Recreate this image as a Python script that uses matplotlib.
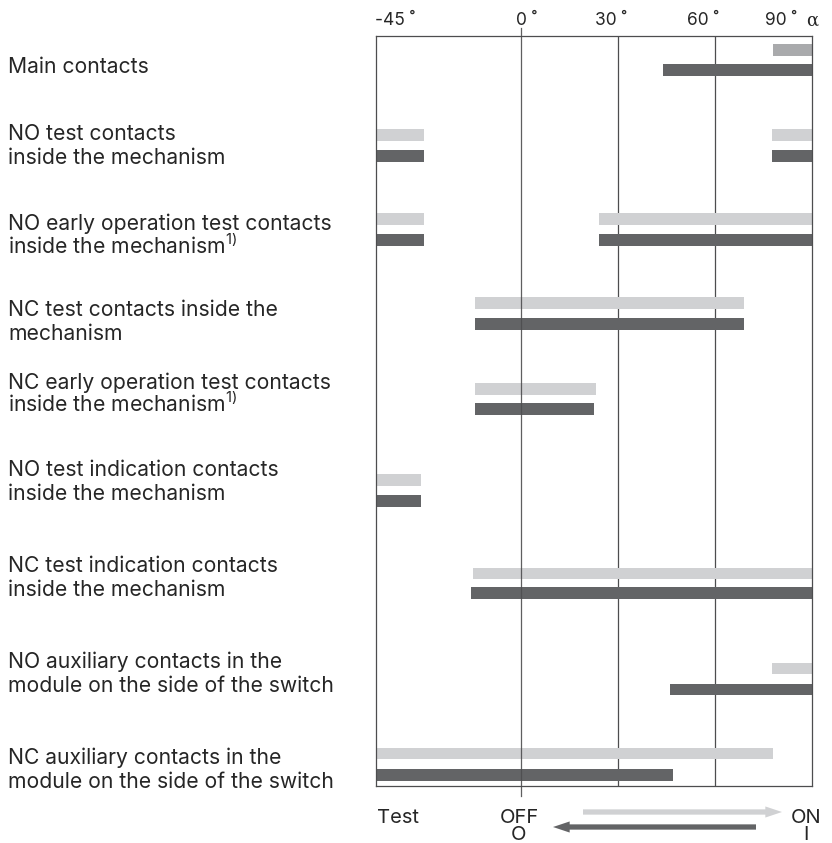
import matplotlib
matplotlib.use("Agg")
import matplotlib.pyplot as plt
from matplotlib import transforms

plt.rcParams['font.family'] = ['Inter', 'DejaVu Sans']
plt.rcParams['mathtext.fontset'] = 'custom'
plt.rcParams['mathtext.rm'] = 'Inter'

# contact names (one row each)
labels = [
    "Main contacts",
    "NO test contacts\ninside the mechanism",
    "NO early operation test contacts\ninside the mechanism$^{1)}$",
    "NC test contacts inside the\nmechanism",
    "NC early operation test contacts\ninside the mechanism$^{1)}$",
    "NO test indication contacts\ninside the mechanism",
    "NC test indication contacts\ninside the mechanism",
    "NO auxiliary contacts in the\nmodule on the side of the switch",
    "NC auxiliary contacts in the\nmodule on the side of the switch",
]

# closed ranges in degrees (start, end): light = closing (OFF -> ON), dark = opening (ON -> OFF)
light_ranges = [
    [(78, 90)],
    [(-45, -30), (77.5, 90)],
    [(-45, -30), (24, 90)],
    [(-14.5, 69)],
    [(-14.5, 23)],
    [(-45, -31)],
    [(-15, 90)],
    [(77.5, 90)],
    [(-45, 78)],
]
dark_ranges = [
    [(44, 90)],
    [(-45, -30), (77.5, 90)],
    [(-45, -30), (24, 90)],
    [(-14.5, 69)],
    [(-14.5, 22.5)],
    [(-45, -31)],
    [(-15.5, 90)],
    [(46, 90)],
    [(-45, 47)],
]

tick_values = [-45, 0, 30, 60, 90]
tick_labels = ["-45 ˚", "0 ˚", "30 ˚", "60 ˚", "90 ˚"]

# layout (pixels)
W, H = 832, 843
light_y = [50, 135, 219, 303, 389, 480, 573.5, 668.5, 753.5]
dark_y = [70, 156, 240, 324, 409, 501, 593, 689.5, 775]
label_base = [73, 140, 230, 316, 389, 476, 572, 668, 764]
tick_dx = [19, 5, -7, -12, -31]
bar_h = 11.5
LIGHT = '#d0d1d3'
LIGHT_MAIN = '#a9aaac'
DARK = '#636466'
LINE = '#4d4d4f'
TXT = '#262626'

fig = plt.figure(figsize=(W / 100, H / 100), dpi=100)
ax = fig.add_axes([376 / W, 1 - 786 / H, 436 / W, 750 / H])
ax.set_xlim(-45, 90)
ax.set_ylim(786, 36)

for i in range(len(labels)):
    lc = LIGHT_MAIN if i == 0 else LIGHT
    for s, e in light_ranges[i]:
        ax.barh(light_y[i], e - s, left=s, height=bar_h, color=lc, zorder=2)
    for s, e in dark_ranges[i]:
        ax.barh(dark_y[i], e - s, left=s, height=bar_h, color=DARK, zorder=2)

for v in [30, 60]:
    ax.axvline(v, color=LINE, lw=0.9, zorder=1)
ax.plot([0, 0], [28, 796], color=LINE, lw=0.9, zorder=3, clip_on=False, alpha=0.9)

for sp in ax.spines.values():
    sp.set_color(LINE)
    sp.set_linewidth(0.9)
ax.set_xticks([])
ax.set_yticks([])

# degree labels along the top
trans = transforms.blended_transform_factory(ax.transData, fig.transFigure)
for v, t, dx in zip(tick_values, tick_labels, tick_dx):
    tr = transforms.offset_copy(trans, fig=fig, x=dx, y=0, units='dots')
    ax.text(v, 1 - 25 / H, t, transform=tr, ha='center', va='baseline',
            fontsize=12.5, color=TXT)
ax.text(90, 1 - 26 / H, "α", transform=trans, ha='center', va='baseline',
        fontsize=13, color=TXT, family=['DejaVu Serif'])

# row labels
for lab, yb in zip(labels, label_base):
    for k, line in enumerate(lab.split("\n")):
        fig.text(8 / W, 1 - (yb + k * 23.5) / H, line, ha='left', va='baseline',
                 fontsize=15.2, color=TXT)

# bottom legend
fig.text(377 / W, 1 - 823 / H, "Test", ha='left', va='baseline', fontsize=14.5, color=TXT)
fig.text(519 / W, 1 - 823 / H, "OFF", ha='center', va='baseline', fontsize=14.5, color=TXT)
fig.text(519 / W, 1 - 840 / H, "O", ha='center', va='baseline', fontsize=14.5, color=TXT)
fig.text(806 / W, 1 - 823 / H, "ON", ha='center', va='baseline', fontsize=14.5, color=TXT)
fig.text(806 / W, 1 - 840 / H, "I", ha='center', va='baseline', fontsize=14.5, color=TXT)

arrow_style = 'simple,head_length=1.2,head_width=0.8,tail_width=0.38'
ax.annotate('', xy=(782, H - 812), xytext=(583, H - 812), xycoords='figure pixels',
            textcoords='figure pixels',
            arrowprops=dict(arrowstyle=arrow_style, color=LIGHT, mutation_scale=10,
                            shrinkA=0, shrinkB=0, lw=0))
ax.annotate('', xy=(553, H - 827), xytext=(756, H - 827), xycoords='figure pixels',
            textcoords='figure pixels',
            arrowprops=dict(arrowstyle=arrow_style, color=DARK, mutation_scale=10,
                            shrinkA=0, shrinkB=0, lw=0))

fig.savefig("out.png", dpi=100)
